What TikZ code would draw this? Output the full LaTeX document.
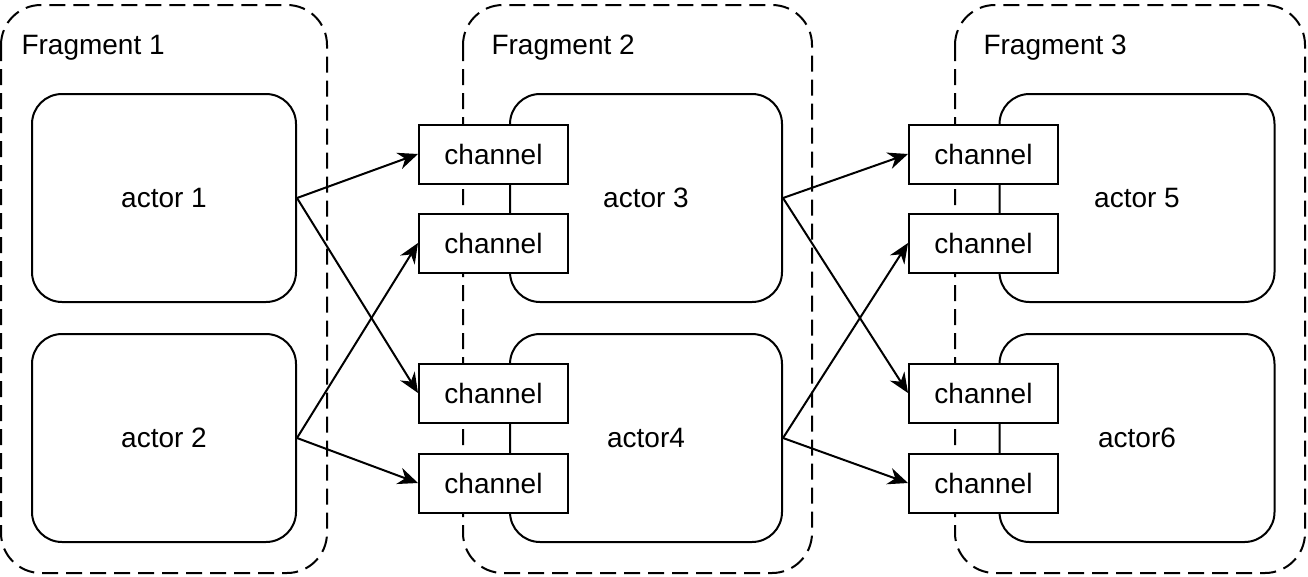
\documentclass[tikz,border=0pt]{standalone}
\usepackage{fontspec}
\setmainfont{Liberation Sans}
\usetikzlibrary{arrows.meta}
\tikzset{
  fragbox/.style={draw,line width=2pt,dash pattern=on 16pt off 8pt,rounded corners=40pt},
  actorbox/.style={draw,line width=2pt,rounded corners=30pt,minimum width=#1,minimum height=208pt},
  chanbox/.style={draw,line width=2pt,fill=white,minimum width=149pt,minimum height=59pt,inner sep=0pt},
  link/.style={line width=2pt,-{Stealth[length=20pt,width=17pt]}}
}
\begin{document}
\begin{tikzpicture}[x=1pt,y=-1pt,font=\fontsize{28}{34}\selectfont]
  \useasboundingbox (0,0) rectangle (1308,576);
  % fragments
  \draw[fragbox] (1,5) rectangle (327,573);
  \draw[fragbox] (463,5) rectangle (812,573);
  \draw[fragbox] (955,5) rectangle (1305,573);
  \node[anchor=west] (f1) at (18,48) {Fragment 1};
  \node[anchor=west] (f2) at (488,48) {Fragment 2};
  \node[anchor=west] (f3) at (980,48) {Fragment 3};
  % actors
  \node[actorbox=264pt] (a1) at (164,198) {actor 1};
  \node[actorbox=264pt] (a2) at (164,438) {actor 2};
  \node[actorbox=272pt] (a3) at (646,198) {\hspace*{0pt}actor 3};
  \node[actorbox=272pt] (a4) at (646,438) {actor4};
  \node[actorbox=275pt] (a5) at (1137,198) {actor 5};
  \node[actorbox=275pt] (a6) at (1137,438) {actor6};
  % channels
  \foreach \x/\n in {493.5/a,983.5/b}{
    \node[chanbox] (c\n1) at (\x,154) {channel};
    \node[chanbox] (c\n2) at (\x,243) {channel};
    \node[chanbox] (c\n3) at (\x,393) {channel};
    \node[chanbox] (c\n4) at (\x,483) {channel};
  }
  % links
  \draw[link] (a1.east) -- (ca1.west);
  \draw[link] (a1.east) -- (ca3.west);
  \draw[link] (a2.east) -- (ca2.west);
  \draw[link] (a2.east) -- (ca4.west);
  \draw[link] (a3.east) -- (cb1.west);
  \draw[link] (a3.east) -- (cb3.west);
  \draw[link] (a4.east) -- (cb2.west);
  \draw[link] (a4.east) -- (cb4.west);
\end{tikzpicture}
\end{document}
